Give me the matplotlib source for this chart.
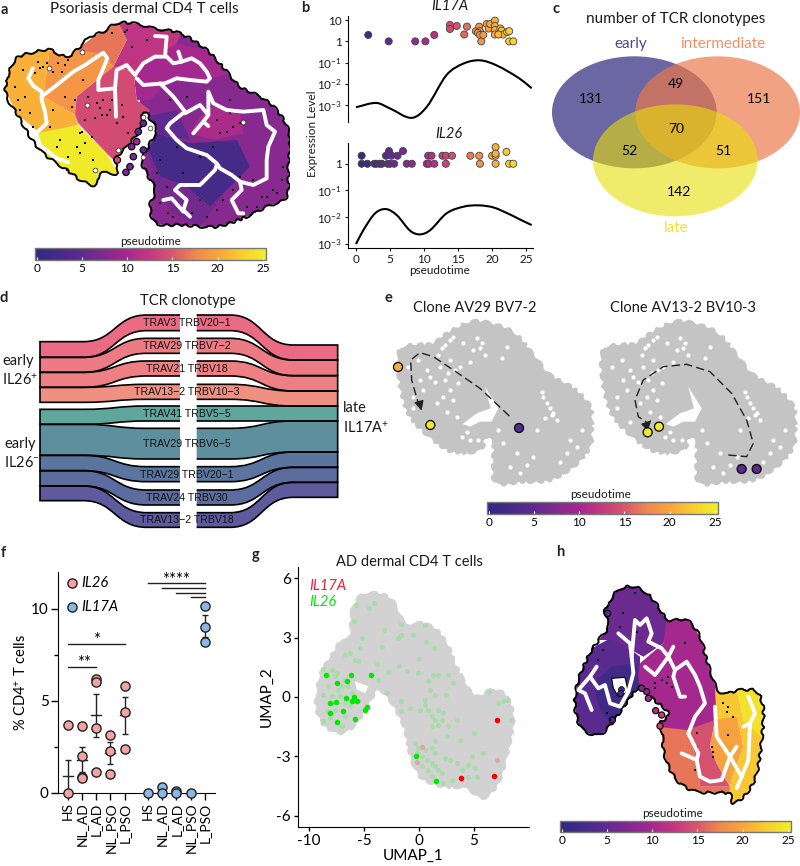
import matplotlib
matplotlib.use("Agg")
import matplotlib.pyplot as plt
import numpy as np
from matplotlib.cm import ScalarMappable
from matplotlib.colors import LinearSegmentedColormap, Normalize
from matplotlib.patches import Ellipse, PathPatch, Polygon
from matplotlib.path import Path

plt.rcParams["font.family"] = ["Lato", "DejaVu Sans"]
plt.rcParams["mathtext.default"] = "regular"

W, H = 800, 866

# pseudotime colour scale
PSEUDO_STOPS = [(0, "#2e2a80"), (0.2, "#5f2a90"), (0.4, "#a5288e"), (0.5, "#c6387f"),
                (0.6, "#d9586a"), (0.7, "#f08a4c"), (0.8, "#f9a83a"), (0.9, "#f8cf30"),
                (1, "#f0ee28")]
pseudo = LinearSegmentedColormap.from_list("pseudo", PSEUDO_STOPS)
pnorm = Normalize(0, 25)
BAR_TICKS = [0, 5, 10, 15, 20, 25]

# ---- panel a, coordinates in a 3x crop of the panel ----
a_outline = [(20, 240), (50, 175), (110, 155), (150, 150), (200, 170), (240, 140), (270, 110), (310, 95),
             (350, 70), (400, 70), (460, 85), (540, 100), (620, 150), (680, 215), (720, 260), (780, 290),
             (830, 330), (868, 400), (865, 500), (860, 590), (800, 620), (740, 650), (650, 680), (550, 675),
             (470, 670), (450, 620), (465, 570), (440, 520), (425, 480), (450, 430), (470, 390), (452, 360),
             (436, 335), (426, 350), (425, 380), (405, 410), (380, 440), (345, 480), (355, 520), (300, 520),
             (290, 555), (250, 545), (200, 510), (130, 460), (90, 410), (50, 340), (20, 290)]
a_regions = [
    (8.0, [(420, 0), (900, 0), (900, 700), (420, 700), (420, 300)]),
    (10.0, [(400, 215), (460, 180), (530, 130), (620, 150), (690, 220), (600, 245), (510, 240), (450, 300), (410, 300)]),
    (12.0, [(350, 60), (550, 90), (530, 130), (460, 180), (400, 215), (340, 200), (380, 120)]),
    (10.5, [(600, 350), (640, 320), (720, 340), (730, 400), (640, 420), (570, 400)]),
    (16.5, [(200, 170), (350, 60), (380, 120), (340, 200), (300, 160), (250, 200)]),
    (18.5, [(150, 140), (300, 160), (340, 200), (230, 290), (225, 345), (130, 290)]),
    (14.0, [(230, 290), (340, 200), (400, 215), (410, 300), (450, 330), (410, 420), (350, 490), (320, 460), (235, 370), (225, 345)]),
    (20.5, [(0, 240), (50, 165), (150, 140), (130, 290), (225, 345), (235, 375), (120, 400), (50, 340)]),
    (24.7, [(110, 400), (235, 375), (320, 460), (360, 530), (290, 570), (120, 470)]),
    (5.0, [(440, 350), (530, 330), (570, 420), (470, 400), (440, 420)]),
    (2.5, [(470, 400), (570, 430), (710, 420), (750, 500), (680, 570), (630, 620), (560, 560), (480, 530), (445, 450)]),
    (6.5, [(445, 450), (480, 530), (560, 560), (630, 620), (680, 570), (600, 680), (520, 640), (460, 560)]),
]
a_branches = [
    [(98, 205), (85, 235), (100, 258), (125, 275), (125, 300), (135, 335), (140, 370), (108, 400), (120, 435), (170, 475), (205, 487)],
    [(125, 290), (170, 255), (220, 215), (255, 195), (310, 158), (322, 175), (295, 240), (295, 270), (345, 265), (348, 350)],
    [(345, 265), (350, 210), (380, 195), (405, 225), (430, 190), (465, 170), (495, 170), (500, 110), (465, 108)],
    [(495, 165), (520, 190), (545, 185), (535, 155)],
    [(545, 185), (575, 175), (600, 190), (620, 215), (630, 235), (620, 245), (570, 240), (530, 235), (495, 250), (430, 255), (410, 235)],
    [(480, 250), (520, 290), (555, 335), (510, 370), (500, 385), (530, 420), (560, 445), (620, 465), (650, 490), (660, 505), (695, 525), (720, 545), (725, 570), (695, 600), (715, 640), (730, 640)],
    [(650, 495), (645, 510), (600, 555), (540, 555), (525, 570), (560, 600), (550, 630), (570, 650)],
    [(490, 600), (515, 595), (550, 635)],
    [(720, 545), (760, 555), (800, 535), (800, 480), (805, 440), (825, 395), (800, 375), (790, 330), (730, 335), (680, 330), (640, 310), (625, 275), (625, 345), (600, 315), (555, 340)],
    [(625, 345), (610, 365), (625, 378)],
    [(610, 365), (580, 400)],
]
a_specks_x = [120, 185, 70, 250, 265, 300, 320, 240, 230, 280, 180, 55, 90, 150, 375, 395, 440, 510, 560, 700, 720, 690, 660, 640, 800, 845, 760, 820, 785, 520, 600, 480, 550, 470, 255, 215, 115, 205, 335, 380, 175, 130, 60, 330, 365, 310, 285, 200, 245, 680,
              140, 160, 195, 105, 75, 45, 100, 160, 195, 225, 265, 290, 305, 335, 370, 385, 350, 275, 255, 205, 170, 240, 480, 505, 575, 620, 650, 670, 700, 740, 830, 850, 800, 770, 720, 600, 530, 500, 650, 690]
a_specks_y = [205, 215, 210, 240, 315, 325, 345, 400, 440, 480, 420, 300, 340, 380, 95, 140, 120, 300, 290, 380, 370, 340, 400, 440, 460, 540, 540, 570, 590, 650, 600, 480, 520, 520, 360, 320, 185, 180, 100, 90, 190, 200, 330, 330, 315, 300, 355, 510, 395, 395,
              190, 215, 195, 220, 290, 260, 380, 330, 290, 300, 290, 310, 345, 300, 350, 400, 370, 410, 430, 470, 440, 460, 610, 640, 640, 650, 630, 600, 570, 620, 580, 500, 590, 620, 530, 470, 440, 560, 360, 300]
a_holes_x = [148, 245, 262, 430, 450, 285, 355, 430, 730]
a_holes_y = [205, 155, 315, 350, 385, 510, 450, 470, 365]
a_cells_x = [378, 390, 400, 430, 395, 410, 415, 430, 352]
a_cells_y = [517, 500, 470, 450, 440, 425, 395, 370, 480]
a_cells_t = [7, 7, 7, 5, 7, 10, 5, 5, 14]

# ---- panel b ----
il17_x = [1.8, 4.8, 8.7, 10.2, 11.5, 13.8, 13.8, 14.8, 15.9, 16.3, 17.6, 18.1, 18.2, 17.9, 18.2, 18.4, 18.7, 19.2, 19.5, 19.7, 20.4, 20.4, 20.4, 20.4, 21.2, 21.4, 21.6, 20.9, 22.2, 22.5, 22.5, 23.1]
il17_y = [2, 1, 1, 1, 2, 5.9, 3.8, 5.3, 2.1, 4.9, 3, 4.9, 3, 2.5, 2, 1, 2, 6.5, 4, 6.5, 9.4, 5.3, 3.4, 2.1, 4, 3.2, 2.1, 2.1, 2.7, 3, 1, 1]
il26_x = [0.83, 1.67, 2.7, 3.0, 3.5, 3.8, 4.66, 5.0, 5.6, 7.45, 8.2, 10.4, 10.7, 11.5, 13.2, 18.2, 20.5, 22.5, 23.1,
          0.83, 4.4, 5.2, 6.1, 10.6, 11.1, 12.7, 13.2, 14.1, 16.8, 18.1, 20, 20.5,
          4.85, 6.9, 20.5, 22.1, 20.5]
il26_y = [1] * 19 + [2] * 13 + [3, 3, 4.2, 2.8, 2.4]
il17_curve_x = [0, 3, 5, 8.2, 10.4, 13.3, 15.8, 18.2, 20.6, 24, 25.8]
il17_curve_log = [-3.09, -2.89, -3.15, -3.59, -3.07, -1.58, -1.04, -0.89, -1.12, -1.74, -2.2]
il26_curve_x = [0, 1.08, 2.8, 4.4, 6, 7.94, 9.4, 10.9, 13.3, 15.8, 18, 20.2, 22.6, 24, 25.8]
il26_curve_log = [-3.01, -2.49, -1.86, -1.70, -1.93, -2.51, -2.65, -2.49, -1.86, -1.61, -1.56, -1.64, -1.90, -2.08, -2.3]

# ---- panel c ----
venn_counts = ["131", "49", "151", "70", "52", "51", "142"]
venn_count_x = [184, 438, 688, 438, 297, 581, 447]
venn_count_y = [296, 251, 296, 386, 453, 453, 575]
venn_names = ["early", "intermediate", "late"]

# ---- panel d, 3x crop coordinates ----
clonotypes = ["TRAV3 TRBV20\u22121", "TRAV29 TRBV7\u22122", "TRAV21 TRBV18", "TRAV13\u22122 TRBV10\u22123",
              "TRAV41 TRBV5\u22125", "TRAV29 TRBV6\u22125", "TRAV29 TRBV20\u22121", "TRAV24 TRBV30", "TRAV13\u22122 TRBV18"]
flow_left = [(185, 232), (232, 277), (277, 322), (322, 367), (388, 433), (433, 526), (526, 572), (572, 618), (618, 662)]
flow_mid = [(105, 152), (175, 220), (243, 288), (313, 358), (378, 423), (445, 537), (560, 605), (630, 675), (698, 742)]
flow_right = [(195, 240), (240, 287), (287, 333), (333, 378), (378, 423), (423, 516), (516, 562), (562, 607), (607, 652)]
flow_colors = ["#eb6b84", "#ed7b84", "#ee8083", "#ef9080", "#5fa69c", "#5e8f9e", "#5b769e", "#5c6c9f", "#5d5a9d"]

# ---- panel e, 3x crop coordinates ----
e_outline = [(90, 210), (130, 195), (190, 190), (240, 155), (310, 125), (380, 135), (440, 165), (490, 225),
             (540, 285), (610, 325), (660, 380), (665, 440), (660, 500), (610, 560), (540, 600), (460, 605),
             (380, 610), (370, 560), (370, 490), (345, 470), (330, 510), (250, 515), (190, 480), (120, 410),
             (95, 340), (85, 270)]
e_hole = [(345, 320), (385, 385), (365, 425), (330, 425), (300, 440), (278, 432), (320, 400), (362, 385)]
e_holes_x = [225, 240, 215, 320, 330, 310, 225, 235, 240, 220, 240, 520, 540, 550, 530, 325, 300, 290, 160, 180, 270, 620, 590, 440, 470, 500, 130,
             205, 250, 335, 345, 300, 280, 115, 145, 170, 195, 210, 255, 265, 250, 200, 150, 130, 170, 230, 260, 275, 385, 400, 420, 450, 490, 570, 600, 635, 560, 410, 395, 515, 545, 525]
e_holes_y = [195, 180, 205, 175, 205, 210, 300, 280, 330, 350, 240, 350, 385, 400, 370, 480, 480, 455, 330, 290, 260, 500, 520, 520, 555, 450, 350,
             225, 170, 190, 225, 245, 190, 260, 240, 270, 305, 260, 270, 310, 360, 370, 300, 385, 425, 395, 410, 470, 450, 490, 560, 580, 530, 545, 480, 450, 420, 200, 235, 335, 405, 415]
e1_cells_x = [84, 181, 447]
e1_cells_y = [261, 435, 444]
e1_cells_t = [20.5, 24.5, 4]
e2_cells_x = [223, 257, 505, 550]
e2_cells_y = [457, 440, 567, 567]
e2_cells_t = [24.5, 24.5, 5, 5]
e1_path_x = [418, 330, 250, 190, 150, 122, 125, 145, 155]
e1_path_y = [408, 325, 270, 230, 218, 240, 300, 370, 392]
e2_path_x = [465, 520, 540, 520, 475, 410, 340, 270, 210, 185, 195, 225]
e2_path_y = [525, 530, 490, 420, 340, 275, 253, 260, 300, 360, 410, 430]

# ---- panel f ----
groups = ["HS", "NL_AD", "L_AD", "NL_PSO", "L_PSO"]
pos_il26 = [0, 1, 2, 3, 4]
pos_il17 = [5.65, 6.65, 7.65, 8.65, 9.65]
il26_vals = [[3.65, 0], [3.6, 2.0, 0.85, 0.8], [6.2, 6.0, 3.5, 1.1], [3.15, 2.25, 1.0], [5.8, 4.4, 2.4]]
il17_vals = [[0], [0.3, 0], [0.1, 0], [0], [10.15, 9.0, 8.2]]
il26_mean = [0.9, 1.8, 4.2, 2.15, 4.2]
il26_err = [0.9, 0.68, 1.18, 0.6, 1.0]
il17_l_pso_mean = 9.05
il17_l_pso_err = 0.6

# ---- panel g ----
g_outline_x = [-9.30, -9.15, -8.70, -7.79, -7.03, -6.27, -6.12, -5.36, -4.0, -2.48, -1.27, 0.39, 1.76, 2.67, 3.27, 4.48, 5.39, 6.61, 7.97, 8.58, 7.97, 7.21, 5.85, 4.18, 2.06, 0.24, -0.67, -1.21, -1.42, -2.48, -3.70, -4.61, -5.67, -7.03, -8.55, -9.30]
g_outline_y = [0.03, 0.71, 1.47, 2.23, 2.90, 3.07, 4.33, 5.09, 5.26, 4.92, 3.74, 3.74, 3.32, 2.56, 1.72, 0.46, 0.03, 0.37, 0.03, -1.15, -3.0, -4.35, -5.11, -4.6, -4.52, -4.1, -3.17, -1.82, -1.4, -0.3, 0.37, -0.39, -1.32, -1.82, -1.48, -0.64]
g_hole_x = [-5.82, -4.6, -4.91, -5.67]
g_hole_y = [0.79, 0.54, 0.2, 0.37]
light_x = [-8.70, -7.94, -7.48, -6.73, -7.64, -8.24, -7.33, -7.03, -6.42, -6.12, -8.70, -7.94, -7.18, -6.73, -6.27, -7.64, -8.39, -8.70, -8.09, -7.03, -6.73, -6.27, -5.82, -5.52, -6.73, -5.21, -5.36, -5.88, -5.76, -4.55, -4.06, -3.39, -3.18, -1.67, -1.88, -1.67, -0.58, 0.55, 0.61, 1.39, -0.03, -3.85, -2.79, -1.79, -1.12, -0.12, -3.70, -2.94, -1.64, -1.67, -0.82, 1.30, 1.76, 2.67, 3.12, 0.85, 1.0, 1.45, 2.42, 0.55, 0.55, 0.09, 0.85, 1.76, 2.21, 1.15, 1.45, 2.06, 1.15, 1.76, 3.42, 2.67, 5.03, -0.36, -0.06, 0.55, 1.15, 1.45, -0.21, 0.24, 0.70, 1.15, 1.45, 1.76, 2.06, 0.24, 0.85, 1.15, 2.21, 2.97, 2.36, 2.82, 3.42, 1.45, 2.52, 3.73, 4.79, 4.48, 5.09, 5.85, 3.88, 4.48, 5.24, 6.36, 7.21, 7.67, 7.97, 8.36]
light_y = [1.42, 1.35, 1.21, 0.88, 1.05, 0.54, 0.37, 0.54, 0.54, 0.20, 0.12, 0.03, 0.03, -0.30, -0.47, -0.64, -0.73, -1.23, -1.06, -1.48, -0.98, 2.23, 1.89, 1.80, 2.14, 2.98, 2.48, 3.86, 4.67, 4.50, 4.76, 2.53, 3.41, 3.69, 2.98, 3.15, 3.15, 3.66, 2.77, 2.48, 1.92, 1.69, 1.25, 1.59, 1.30, 1.21, 0.88, 0.20, -0.22, -0.69, -0.56, 1.13, 1.13, 1.13, 0.71, 0.79, 0.37, 0.12, 0.12, -0.13, -0.39, -0.67, -0.67, -0.64, -0.81, -0.98, -1.15, -1.15, -1.48, -1.40, -1.15, -1.48, -1.82, -2.33, -2.58, -2.66, -2.58, -2.83, -2.83, -3.0, -3.17, -3.34, -3.51, -3.68, -3.84, -3.51, -3.68, -4.01, -4.35, -4.18, -3.09, -3.17, -3.34, -2.24, -1.99, -2.16, -3.0, -3.42, -3.59, -2.83, -3.68, -4.05, -4.05, 0.24, -0.30, -0.22, -0.13, -1.15]
il26_pos_x = [-8.48, -7.48, -6.52, -6.21, -4.36, -8.12, -7.58, -6.61, -5.94, -6.06, -5.67, -6.88, -8.09, -7.45, -5.82, -4.70, -4.91, -0.30, 1.52]
il26_pos_y = [1.13, 0.69, 0.79, 1.11, 1.13, -0.29, -0.25, -0.05, 0.0, -0.20, -0.19, -0.73, -0.83, -1.27, -1.12, -0.52, -0.67, -3.0, -4.23]
il17_pos_x = [7.06, 3.82, 6.79]
il17_pos_y = [-1.15, -4.08, -3.98]
il17_weak_x = [0.24, -0.21, 7.09]
il17_weak_y = [-2.51, -3.31, -3.19]

# ---- panel h, 3x crop coordinates ----
h_outline = [(205, 130), (235, 90), (280, 80), (320, 100), (355, 140), (385, 180), (440, 180), (480, 230),
             (500, 300), (530, 385), (560, 400), (600, 390), (650, 395), (670, 450), (665, 540), (650, 640),
             (620, 700), (580, 730), (565, 700), (470, 695), (410, 660), (375, 590), (365, 510), (360, 490),
             (385, 460), (330, 410), (300, 380), (265, 420), (215, 490), (175, 525), (125, 505), (105, 440),
             (115, 360), (150, 280), (180, 235), (205, 200), (195, 155)]
h_regions = [
    (4.5, [(90, 300), (220, 230), (300, 290), (300, 400), (215, 500), (170, 540), (90, 520)]),
    (5.8, [(190, 60), (330, 60), (390, 180), (370, 250), (310, 290), (220, 240), (170, 240)]),
    (10.0, [(380, 170), (450, 170), (510, 300), (540, 385), (525, 480), (490, 570), (440, 510), (350, 510), (290, 380), (300, 310), (370, 250)]),
    (2.0, [(215, 320), (290, 310), (300, 395), (215, 490), (180, 450), (160, 370)]),
    (16.5, [(350, 500), (440, 510), (470, 600), (480, 680), (570, 680), (580, 740), (400, 720), (340, 600)]),
    (14.5, [(440, 510), (525, 480), (510, 560), (530, 610), (570, 680), (480, 680), (470, 600)]),
    (22.0, [(610, 480), (680, 540), (660, 640), (620, 740), (560, 740), (570, 680), (580, 640), (610, 560), (590, 470), (530, 490), (525, 385), (590, 385)]),
    (19.5, [(525, 480), (590, 470), (610, 560), (580, 640), (570, 680), (530, 610), (510, 560)]),
    (24.0, [(590, 385), (660, 385), (685, 450), (680, 545), (610, 480)]),
]
h_branches = [
    [(155, 450), (135, 400), (115, 390), (150, 350), (170, 320)],
    [(150, 350), (175, 385), (195, 375), (210, 430), (240, 440), (265, 395), (280, 340), (275, 290), (285, 180), (300, 195), (320, 175), (335, 220), (325, 245), (365, 265), (385, 290)],
    [(275, 290), (270, 250), (235, 220)],
    [(385, 290), (400, 260)],
    [(385, 290), (345, 345), (315, 320)],
    [(385, 290), (405, 330), (400, 350), (420, 410), (435, 410)],
    [(405, 330), (440, 305), (465, 345), (480, 380), (495, 430), (465, 470), (445, 520), (475, 580), (470, 600), (425, 580)],
    [(470, 600), (480, 650), (510, 665), (545, 660), (570, 590), (530, 530), (525, 440)],
    [(570, 590), (590, 560)],
    [(570, 590), (605, 650), (590, 685)],
    [(605, 650), (625, 600), (630, 490), (645, 460), (625, 410)],
    [(630, 490), (610, 500)],
]
h_specks_x = [285, 190, 160, 250, 290, 380, 415, 345, 365, 395, 470, 470, 520, 565, 560, 580, 515, 200, 210, 465, 175, 240, 265, 345, 385, 350, 435, 565, 550, 520]
h_specks_y = [100, 270, 265, 160, 215, 370, 320, 385, 360, 380, 520, 560, 590, 525, 455, 470, 560, 460, 480, 630, 300, 200, 240, 370, 350, 345, 250, 440, 430, 575]
h_cells_x = [203, 305, 320, 325, 347, 360, 365, 217]
h_cells_y = [160, 385, 395, 415, 452, 498, 465, 480]
h_cells_t = [5, 8, 8, 10, 11, 13, 13, 3]


fig = plt.figure(figsize=(W / 100, H / 100), dpi=100)


def px_axes(x0, y0, x1, y1):
    return fig.add_axes([x0 / W, 1 - y1 / H, (x1 - x0) / W, (y1 - y0) / H])


def crop_axes(x, y, w, h):
    ax = px_axes(x, y, x + w, y + h)
    ax.set_xlim(0, w * 3)
    ax.set_ylim(h * 3, 0)
    ax.axis("off")
    ax.patch.set_alpha(0)
    return ax


def put(x, y, s, **kw):
    kw.setdefault("ha", "center")
    kw.setdefault("va", "center")
    kw.setdefault("color", "#1a1a1a")
    fig.text(x / W, 1 - y / H, s, **kw)


def smooth_closed(pts):
    # closed bezier outline through the points
    p = np.array(pts, float)
    n = len(p)
    verts = [p[0]]
    codes = [Path.MOVETO]
    for i in range(n):
        p0, p1, p2, p3 = p[i - 1], p[i], p[(i + 1) % n], p[(i + 2) % n]
        verts += [p1 + (p2 - p0) / 6, p2 - (p3 - p1) / 6, p2]
        codes += [Path.CURVE4] * 3
    return Path(verts, codes)


def pseudo_bar(x0, y0, x1, y1, lo, hi, label_x):
    cax = px_axes(x0, y0, x1, y1)
    cb = fig.colorbar(ScalarMappable(Normalize(lo, hi), pseudo), cax=cax, orientation="horizontal")
    cb.set_ticks(BAR_TICKS)
    cb.outline.set_edgecolor("#777777")
    cb.outline.set_linewidth(1)
    cax.tick_params(axis="x", direction="in", color="white", length=2, width=0.8, pad=2, labelsize=8.5)
    put(label_x, y0 - 7, "pseudotime", fontsize=8.5)


def blob(ax, outline, regions, branches, specks_x, specks_y):
    # coloured pseudotime zones clipped to the outline, trajectory on top
    shape = smooth_closed(outline)
    clip = PathPatch(shape, transform=ax.transData, facecolor="none", edgecolor="none")
    ax.add_patch(clip)
    for t, pts in regions:
        p = Polygon(pts, closed=True, facecolor=pseudo(pnorm(t)), edgecolor="none", zorder=1)
        ax.add_patch(p)
        p.set_clip_path(clip)
    line = PathPatch(shape, facecolor="none", edgecolor="black", lw=1.4, joinstyle="round", zorder=2)
    line.set_sketch_params(scale=1.2, length=14, randomness=3)
    ax.add_patch(line)
    ax.scatter(specks_x, specks_y, s=4, color="black", marker="s", linewidths=0, zorder=3)
    for b in branches:
        xs, ys = zip(*b)
        ax.plot(xs, ys, color="white", lw=2.8, solid_joinstyle="round", solid_capstyle="round", zorder=5)


def smooth_line(ax, xs, logs):
    # bezier through the read points, built in log space
    xs = np.array(xs, float)
    ys = np.array(logs, float)
    dx = np.gradient(xs)
    dy = np.gradient(ys)
    verts = [(xs[0], 10 ** ys[0])]
    codes = [Path.MOVETO]
    for i in range(len(xs) - 1):
        h = (xs[i + 1] - xs[i]) / 3
        s0 = dy[i] / dx[i]
        s1 = dy[i + 1] / dx[i + 1]
        verts += [(xs[i] + h, 10 ** (ys[i] + s0 * h)), (xs[i + 1] - h, 10 ** (ys[i + 1] - s1 * h)), (xs[i + 1], 10 ** ys[i + 1])]
        codes += [Path.CURVE4] * 3
    ax.add_patch(PathPatch(Path(verts, codes), facecolor="none", edgecolor="black", lw=1.5))


# panel a
ax_a = crop_axes(0, 0, 290, 270)
blob(ax_a, a_outline, a_regions, a_branches, a_specks_x, a_specks_y)
ax_a.scatter(a_cells_x, a_cells_y, s=22, c=a_cells_t, cmap=pseudo, norm=pnorm, edgecolors="black", linewidths=0.8, zorder=2)
ax_a.scatter(a_holes_x, a_holes_y, s=12, color="white", edgecolors="black", linewidths=0.4, zorder=3)
put(144, 9, "Psoriasis dermal CD4 T cells", fontsize=11)
pseudo_bar(35, 248.3, 265.7, 260, -0.19, 25.3, 151)

# panel b
ax_b1 = px_axes(347.7, 16, 533, 121.7)
ax_b2 = px_axes(347.7, 142.7, 533, 248)
for ax in (ax_b1, ax_b2):
    ax.set_yscale("log")
    ax.set_xlim(-1.22, 26)
    for s in ("top", "right"):
        ax.spines[s].set_visible(False)
    ax.minorticks_off()
    ax.tick_params(labelsize=8.5, length=2.5, width=0.8, pad=1.5, colors="#1a1a1a")
ax_b1.set_ylim(10 ** -3.77, 10 ** 1.19)
ax_b2.set_ylim(10 ** -3.16, 10 ** 0.79)
ax_b1.scatter(il17_x, il17_y, s=26, c=il17_x, cmap=pseudo, norm=pnorm, edgecolors="#444444", linewidths=0.6, clip_on=False, zorder=3)
ax_b2.scatter(il26_x, il26_y, s=26, c=il26_x, cmap=pseudo, norm=pnorm, edgecolors="#444444", linewidths=0.6, clip_on=False, zorder=3)
smooth_line(ax_b1, il17_curve_x, il17_curve_log)
smooth_line(ax_b2, il26_curve_x, il26_curve_log)
ax_b1.set_yticks([10, 1, 0.1, 0.01, 0.001], ["10", "1", "$10^{-1}$", "$10^{-2}$", "$10^{-3}$"])
ax_b2.set_yticks([1, 0.1, 0.01, 0.001], ["1", "$10^{-1}$", "$10^{-2}$", "$10^{-3}$"])
ax_b1.spines["bottom"].set_visible(False)
ax_b1.set_xticks([])
ax_b2.set_xticks([0, 5, 10, 15, 20, 25])
put(450, 6, "IL17A", style="italic", fontsize=10.5)
put(449, 134, "IL26", style="italic", fontsize=10.5)
put(313, 134, "Expression Level", rotation=90, fontsize=8.5)
put(440, 271, "pseudotime", fontsize=8.5)

# panel c
ax_c = crop_axes(530, 0, 270, 270)
ax_c.add_patch(Ellipse((313, 337), 494, 336, facecolor="#6a67a3", edgecolor="none"))
ax_c.add_patch(Ellipse((563, 337), 494, 336, facecolor="#ec784b", alpha=0.69, edgecolor="none"))
ax_c.add_patch(Ellipse((436, 481), 494, 336, facecolor="#e8df08", alpha=0.6, edgecolor="none"))
for s, x, y in zip(venn_counts, venn_count_x, venn_count_y):
    ax_c.text(x, y, s, ha="center", va="center", fontsize=10, color="black")
put(676, 19, "number of TCR clonotypes", fontsize=11)
put(631, 44, venn_names[0], fontsize=11, color="#4b4a90")
put(723, 44, venn_names[1], fontsize=11, color="#f0906a")
put(676, 228, venn_names[2], fontsize=11, color="#ece23a")

# panel d
ax_d = crop_axes(0, 280, 370, 250)
for i, name in enumerate(clonotypes):
    lt, lb = flow_left[i]
    mt, mb = flow_mid[i]
    rt, rb = flow_right[i]
    # left half
    fill = [(120, lt), (250, lt), (345, lt), (345, mt), (440, mt), (540, mt), (540, mb), (440, mb), (345, mb), (345, lb), (250, lb), (120, lb), (120, lt)]
    c = [Path.MOVETO, Path.LINETO, Path.CURVE4, Path.CURVE4, Path.CURVE4, Path.LINETO, Path.LINETO, Path.LINETO, Path.CURVE4, Path.CURVE4, Path.CURVE4, Path.LINETO, Path.CLOSEPOLY]
    ax_d.add_patch(PathPatch(Path(fill, c), facecolor=flow_colors[i], edgecolor="none", zorder=1))
    # right half
    fill_r = [(590, mt), (690, mt), (785, mt), (785, rt), (880, rt), (1013, rt), (1013, rb), (880, rb), (785, rb), (785, mb), (690, mb), (590, mb), (590, mt)]
    ax_d.add_patch(PathPatch(Path(fill_r, c), facecolor=flow_colors[i], edgecolor="none", zorder=1))
    # black edges only along the top and bottom, and at the outer ends
    edge = [(540, mt), (440, mt), (345, mt), (345, lt), (250, lt), (120, lt), (120, lb), (250, lb), (345, lb), (345, mb), (440, mb), (540, mb)]
    ec = [Path.MOVETO, Path.LINETO, Path.CURVE4, Path.CURVE4, Path.CURVE4, Path.LINETO, Path.LINETO, Path.LINETO, Path.CURVE4, Path.CURVE4, Path.CURVE4, Path.LINETO]
    ax_d.add_patch(PathPatch(Path(edge, ec), facecolor="none", edgecolor="black", lw=1.2, zorder=2))
    edge_r = [(590, mt), (690, mt), (785, mt), (785, rt), (880, rt), (1013, rt), (1013, rb), (880, rb), (785, rb), (785, mb), (690, mb), (590, mb)]
    ax_d.add_patch(PathPatch(Path(edge_r, ec), facecolor="none", edgecolor="black", lw=1.2, zorder=2))
    ax_d.text(560, (mt + mb) / 2 + 1, name, ha="center", va="center", fontsize=7.6, family=["Liberation Sans"], color="#111111", zorder=4)
put(188, 301, "TCR clonotype", fontsize=10.5)
put(2, 361, "early", ha="left", fontsize=10.5)
put(2, 380, "IL26$^{+}$", ha="left", fontsize=10.5)
put(4, 444, "early", ha="left", fontsize=10.5)
put(4, 463, "IL26$^{-}$", ha="left", fontsize=10.5)
put(343, 408, "late", ha="left", fontsize=10.5)
put(343, 428, "IL17A$^{+}$", ha="left", fontsize=10.5)

# panel e
for x_off, cells_x, cells_y, cells_t, path_x, path_y, arrow in (
    (370, e1_cells_x, e1_cells_y, e1_cells_t, e1_path_x, e1_path_y, ((150, 375), (157, 400))),
    (573.3, e2_cells_x, e2_cells_y, e2_cells_t, e2_path_x, e2_path_y, ((225, 430), (240, 415))),
):
    ax_e = crop_axes(x_off, 280, 225, 230)
    grey = PathPatch(smooth_closed(e_outline), facecolor="#c4c4c4", edgecolor="#c4c4c4", lw=1.5, zorder=1)
    grey.set_sketch_params(scale=1.5, length=12, randomness=3)
    ax_e.add_patch(grey)
    ax_e.add_patch(Polygon(e_hole, closed=True, facecolor="white", edgecolor="none", zorder=2))
    ax_e.scatter(e_holes_x, e_holes_y, s=9, color="white", linewidths=0, zorder=2)
    ax_e.plot(path_x, path_y, color="#222222", lw=1, ls=(0, (6, 3)), zorder=3)
    ax_e.annotate("", xy=arrow[1], xytext=arrow[0], zorder=4,
                  arrowprops=dict(arrowstyle="-|>", color="#222222", lw=1, mutation_scale=14))
    ax_e.scatter(cells_x, cells_y, s=42, c=cells_t, cmap=pseudo, norm=pnorm, edgecolors="black", linewidths=0.9, zorder=5, clip_on=False)
put(475, 308, "Clone AV29 BV7-2", fontsize=10.5)
put(683, 308, "Clone AV13-2 BV10-3", fontsize=10.5)
pseudo_bar(487.3, 502, 717.7, 514, -0.15, 25.3, 601)

# panel f
ax_f = px_axes(58.3, 571.7, 215, 792.7)
ax_f.set_xlim(-0.66, 10.37)
ax_f.set_ylim(0, 12)
for s in ("top", "right"):
    ax_f.spines[s].set_visible(False)
for i, p in enumerate(pos_il26):
    ax_f.errorbar(p, il26_mean[i], yerr=il26_err[i], color="#222222", lw=1, capsize=2.5, capthick=1, zorder=2)
    ax_f.plot([p - 0.35, p + 0.35], [il26_mean[i]] * 2, color="#222222", lw=1, zorder=2)
    ax_f.scatter([p] * len(il26_vals[i]), il26_vals[i], s=44, color="#f4a3a3", edgecolors="#222222", linewidths=1, clip_on=False, zorder=3)
ax_f.errorbar(pos_il17[4], il17_l_pso_mean, yerr=il17_l_pso_err, color="#222222", lw=1, capsize=2.5, capthick=1, zorder=2)
for i, p in enumerate(pos_il17):
    ax_f.scatter([p] * len(il17_vals[i]), il17_vals[i], s=44, color="#8db7e3", edgecolors="#222222", linewidths=1, clip_on=False, zorder=3)
ax_f.set_yticks([0, 5, 10])
ax_f.set_yticks([2.5, 7.5], minor=True)
ax_f.set_xticks(pos_il26 + pos_il17, groups + groups, rotation=90, fontsize=10, linespacing=1)
ax_f.tick_params(axis="y", labelsize=11, length=5, width=1, pad=2)
ax_f.tick_params(axis="y", which="minor", length=3, width=1)
ax_f.tick_params(axis="x", length=5, width=1, pad=2)
ax_f.set_ylabel("% CD4$^{+}$ T cells", fontsize=10.5, labelpad=1)
ax_f.plot([0, 4], [8.06, 8.06], color="#222222", lw=1)
ax_f.plot([0, 2], [6.83, 6.83], color="#222222", lw=1)
ax_f.text(2, 7.85, "*", ha="center", va="bottom", fontsize=12)
ax_f.text(1.15, 6.6, "**", ha="center", va="bottom", fontsize=12)
for p, y in zip(pos_il17[:4], [11.38, 11.1, 10.85, 10.6]):
    ax_f.plot([p, pos_il17[4]], [y, y], color="#222222", lw=1)
ax_f.text(7.65, 11.1, "****", ha="center", va="bottom", fontsize=12)
ax_f.scatter([0.3], [11.4], s=44, color="#f4a3a3", edgecolors="#222222", linewidths=1)
ax_f.scatter([0.3], [10.07], s=44, color="#8db7e3", edgecolors="#222222", linewidths=1)
ax_f.text(0.95, 11.4, "IL26", style="italic", va="center", fontsize=10.5)
ax_f.text(0.95, 10.07, "IL17A", style="italic", va="center", fontsize=10.5)

# panel g
ax_g = px_axes(297.7, 567, 529, 827)
ax_g.set_xlim(-11.03, 10)
ax_g.set_ylim(-6.58, 6.58)
for s in ("top", "right"):
    ax_g.spines[s].set_visible(False)
g_shape = PathPatch(smooth_closed(list(zip(g_outline_x, g_outline_y))), facecolor="#d2d2d2", edgecolor="#d2d2d2", lw=1.5, zorder=1)
g_shape.set_sketch_params(scale=1.2, length=14, randomness=3)
ax_g.add_patch(g_shape)
ax_g.fill(g_hole_x, g_hole_y, color="white", lw=0, zorder=2)
ax_g.scatter(light_x, light_y, s=13, color="#a8dca8", linewidths=0, zorder=3)
ax_g.scatter(il17_weak_x, il17_weak_y, s=13, color="#e0a5a5", linewidths=0, zorder=3)
ax_g.scatter(il26_pos_x, il26_pos_y, s=16, color="#00ea00", linewidths=0, zorder=4)
ax_g.scatter(il17_pos_x, il17_pos_y, s=16, color="#ff0000", linewidths=0, zorder=4)
ax_g.set_xticks([-10, -5, 0, 5], ["-10", "-5", "0", "5"])
ax_g.set_yticks([-6, -3, 0, 3, 6], ["-6", "-3", "0", "3", "6"])
ax_g.tick_params(labelsize=11, length=3, width=1, pad=2)
ax_g.set_xlabel("UMAP_1", fontsize=11, labelpad=1)
ax_g.set_ylabel("UMAP_2", fontsize=11, labelpad=2)
ax_g.text(-10, 5.6, "IL17A", color="#f0203a", style="italic", fontsize=10.5, va="center")
ax_g.text(-10, 4.8, "IL26", color="#10e010", style="italic", fontsize=10.5, va="center")
put(409, 562, "AD dermal CD4 T cells", fontsize=10.5)

# panel h
ax_h = crop_axes(540, 560, 260, 306)
blob(ax_h, h_outline, h_regions, h_branches, h_specks_x, h_specks_y)
ax_h.scatter(h_cells_x, h_cells_y, s=20, c=h_cells_t, cmap=pseudo, norm=pnorm, edgecolors="black", linewidths=0.8, zorder=2)
ax_h.add_patch(Polygon([(215, 355), (255, 352), (265, 395), (235, 410), (220, 385)], closed=True, facecolor="white", edgecolor="black", lw=0.8, zorder=3))
ax_h.scatter([242, 240], [388, 398], s=18, color="#3a2a88", edgecolors="black", linewidths=0.5, zorder=4)
pseudo_bar(560, 820.7, 790.7, 832, -0.19, 25.3, 673)

# panel letters
for letter, x, y in [("a", 4, 10), ("b", 305, 8), ("c", 556, 9), ("d", 4, 298), ("e", 388, 298), ("f", 3, 553), ("g", 256, 555), ("h", 560, 552)]:
    put(x, y, letter, fontweight="bold", fontsize=10.5, color="#222222")

fig.savefig("out.png", dpi=100)
